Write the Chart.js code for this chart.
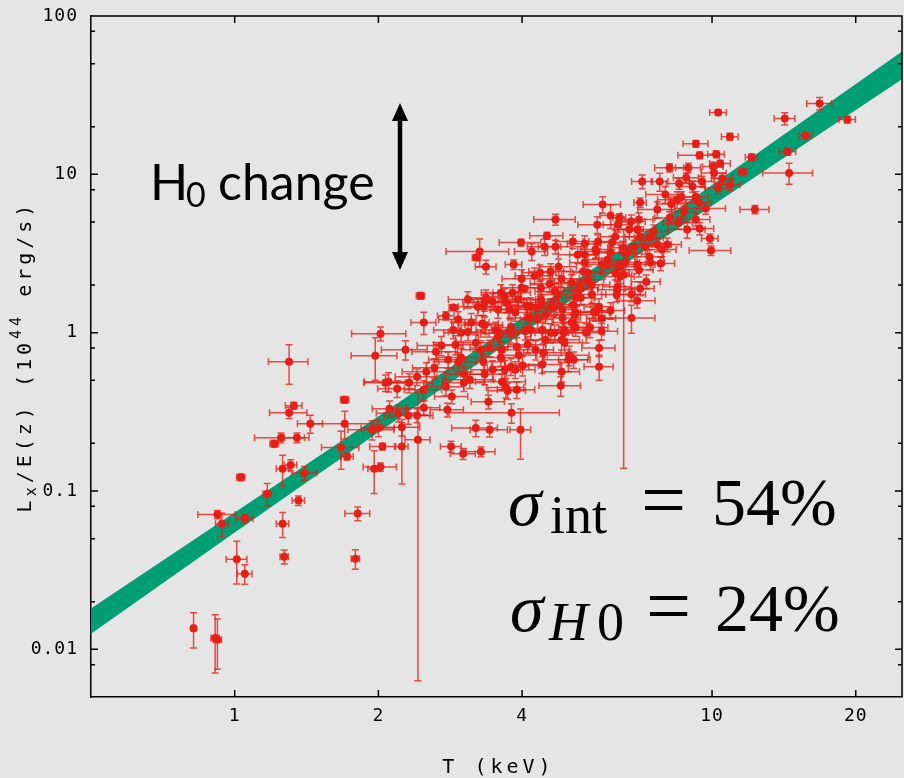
<!DOCTYPE html>
<html>
<head>
<meta charset="utf-8">
<script src="https://cdn.jsdelivr.net/npm/chart.js@4.4.0/dist/chart.umd.min.js"></script>
<style>
  html, body { margin: 0; padding: 0; background: #e5e5e5; overflow: hidden; }
  #wrap { position: relative; width: 906px; height: 778px; }
</style>
</head>
<body>
<div id="wrap"><canvas id="lt"></canvas></div>
<script>
// cluster temperatures (keV)
const temps = [
  0.82, 0.91, 0.92, 0.94, 0.92, 1.05, 1.01, 1.05, 1.03, 1.17, 1.26, 1.31, 1.26, 1.27, 1.30, 1.33, 1.30, 1.25, 1.35, 1.21,
  1.36, 1.40, 1.44, 1.70, 1.70, 1.67, 1.72, 1.81, 1.79, 1.96, 2.02, 2.04, 2.24, 2.42, 1.94, 2.00, 1.97, 2.02, 2.28, 2.11,
  2.20, 2.31, 2.41, 2.49, 2.24, 2.45, 2.87, 2.77, 2.49, 2.79, 2.84, 3.01, 3.28, 3.20, 3.42, 3.97, 3.80, 3.40, 2.85, 2.77,
  2.10, 2.19, 2.32, 2.41, 2.52, 2.62, 2.49, 2.98, 2.64, 3.03, 3.11, 3.34, 3.47, 3.63, 3.70, 3.90, 3.68, 3.87, 4.01, 4.82,
  4.84, 5.00, 4.43, 4.27, 3.61, 3.32, 3.28, 2.90, 2.71, 3.13, 3.30, 2.98, 3.08, 3.20, 3.56, 3.79, 3.90, 3.63, 4.17, 4.31,
  4.48, 4.89, 5.08, 4.91, 5.18, 5.45, 5.55, 5.66, 4.59, 4.39, 4.17, 3.70, 3.87, 3.56, 3.34, 2.94, 2.07, 3.02, 3.42, 3.79,
  3.73, 3.94, 4.84, 5.02, 4.70, 4.51, 3.98, 3.26, 3.21, 3.36, 3.84, 4.19, 4.46, 4.70, 5.11, 5.41, 5.70, 4.77, 4.59, 3.99,
  4.25, 4.36, 3.99, 4.38, 4.57, 4.84, 5.08, 4.03, 3.61, 3.82, 3.68, 3.36, 3.47, 4.68, 5.30, 5.49, 5.37, 3.32, 4.09, 4.27,
  4.38, 4.59, 3.52, 4.06, 4.48, 4.86, 5.11, 5.16, 4.91, 4.41, 5.20, 10.3, 10.9, 9.25, 9.42, 10.2, 10.4, 12.1, 11.6, 8.15,
  8.92, 10.05, 10.1, 8.83, 7.14, 7.77, 8.53, 9.10, 9.53, 10.3, 10.5, 10.9, 7.07, 8.22, 8.62, 9.25, 9.39, 8.74, 9.70, 12.3,
  6.13, 6.40, 8.15, 8.50, 9.25, 9.42, 9.90, 9.95, 7.03, 6.77, 6.36, 6.71, 6.27, 7.56, 7.39, 7.07, 7.68, 5.77, 6.17, 5.72,
  5.41, 6.13, 6.50, 6.65, 6.87, 7.25, 7.39, 7.86, 8.06, 7.80, 7.43, 7.03, 6.59, 6.42, 5.88, 5.41, 5.49, 6.27, 7.28, 7.07,
  6.78, 6.97, 6.78, 6.53, 6.13, 5.87, 5.70, 5.80, 5.60, 6.31, 6.34, 6.42, 5.25, 5.31, 4.86, 5.18, 5.87, 5.80, 5.80, 5.13,
  16.8, 19.2, 14.2, 15.7, 14.4, 14.5,
  3.34, 3.60, 3.79, 4.11, 4.66, 4.68, 3.23, 3.77, 3.08, 2.94, 3.92, 4.75, 5.60, 6.04, 6.97, 7.68, 8.45, 5.75, 5.23, 6.33,
  2.80, 4.11, 4.41, 2.87, 8.87, 5.90, 7.98, 6.97
];
// L_x / E(z) in 1e44 erg/s
const lums = [
  0.0136, 0.0118, 0.0115, 0.062, 0.071, 0.067, 0.037, 0.030, 0.122, 0.096, 0.138, 0.146, 0.062, 0.0385, 0.655, 0.346, 0.312, 0.217, 0.217, 0.199,
  0.087, 0.130, 0.266, 0.377, 0.266, 0.188, 0.165, 0.072, 0.0373, 0.138, 0.142, 0.191, 0.191, 0.211, 0.244, 0.25, 0.714, 0.986, 0.781, 0.331,
  0.31, 0.30, 0.30, 0.336, 0.253, 1.71, 1.44, 1.28, 1.16, 0.326, 0.191, 0.172, 0.177, 0.25, 0.244, 0.244, 0.312, 0.366, 0.395, 0.455,
  0.49, 0.443, 0.483, 0.527, 0.567, 0.60, 0.436, 0.696, 0.759, 0.546, 0.505, 0.546, 0.584, 0.49, 0.45, 0.436, 0.584, 0.584, 0.62, 0.462,
  0.567, 0.675, 0.747, 0.781, 0.696, 0.655, 0.781, 0.84, 0.83, 1.16, 1.14, 1.00, 1.01, 0.865, 0.94, 1.00, 0.816, 0.781, 1.04, 1.21,
  0.903, 1.00, 1.16, 0.865, 1.34, 1.00, 1.08, 1.36, 1.00, 1.55, 1.46, 1.55, 1.34, 1.40, 1.55, 0.655, 0.483, 0.483, 0.80, 0.61,
  0.43, 0.72, 0.903, 0.72, 5.18, 4.10, 3.71, 3.25, 2.98, 2.61, 2.69, 3.25, 3.49, 3.49, 3.76, 3.65, 3.35, 2.61, 2.43, 2.19,
  2.29, 2.39, 1.92, 1.92, 2.04, 2.19, 2.07, 1.90, 1.79, 1.79, 1.69, 1.66, 1.57, 1.82, 1.92, 2.16, 2.43, 1.46, 1.48, 1.44,
  1.62, 1.46, 1.04, 1.02, 1.30, 1.24, 1.50, 1.30, 1.04, 1.04, 1.66, 24.6, 17.3, 15.6, 13.2, 13.4, 11.7, 12.8, 10.4, 11.0,
  11.0, 11.2, 10.2, 9.5, 9.0, 9.0, 8.75, 8.37, 9.0, 8.2, 9.4, 8.6, 6.63, 6.5, 7.2, 7.2, 6.63, 5.8, 6.08, 5.99,
  5.49, 5.32, 5.32, 4.95, 5.18, 4.55, 3.93, 3.30, 5.18, 5.03, 4.81, 4.48, 4.04, 4.35, 3.99, 4.04, 3.60, 3.76, 3.71, 3.25,
  3.11, 3.20, 3.44, 3.20, 3.49, 3.49, 3.02, 3.35, 3.60, 2.73, 2.77, 2.50, 2.77, 2.61, 2.69, 2.77, 2.39, 2.39, 2.10, 1.90,
  1.74, 1.59, 1.24, 2.32, 1.38, 1.23, 1.34, 1.46, 1.74, 1.74, 1.95, 2.26, 1.87, 1.66, 1.40, 1.08, 1.02, 0.80, 0.61, 0.675,
  28.0, 22.2, 22.5, 17.6, 13.9, 10.2,
  1.12, 0.99, 1.08, 1.24, 1.44, 1.00, 1.46, 1.40, 1.62, 1.21, 1.62, 1.74, 2.01, 2.89, 4.48, 5.99, 6.92, 4.81, 3.11, 1.87,
  0.675, 0.84, 0.63, 1.04, 4.48, 6.45, 7.46, 2.69
];
// relative 1-sigma errors
const tempErr = [
  0.01, 0.02, 0.02, 0.03, 0.09, 0.04, 0.05, 0.035, 0.02, 0.02, 0.03, 0.03, 0.03, 0.02, 0.095, 0.04, 0.09, 0.12, 0.06, 0.02,
  0.03, 0.06, 0.06, 0.02, 0.15, 0.09, 0.03, 0.06, 0.02, 0.03, 0.08, 0.06, 0.03, 0.06, 0.11, 0.08, 0.11, 0.13, 0.11, 0.08,
  0.10, 0.11, 0.08, 0.08, 0.09, 0.02, 0.02, 0.04, 0.06, 0.08, 0.05, 0.06, 0.07, 0.11, 0.09, 0.05, 0.26, 0.08, 0.08, 0.09,
  0.11, 0.09, 0.12, 0.10, 0.11, 0.10, 0.09, 0.11, 0.11, 0.09, 0.12, 0.11, 0.10, 0.12, 0.09, 0.09, 0.08, 0.10, 0.08, 0.10,
  0.09, 0.11, 0.09, 0.09, 0.09, 0.11, 0.09, 0.10, 0.11, 0.09, 0.08, 0.08, 0.09, 0.09, 0.09, 0.10, 0.08, 0.09, 0.10, 0.08,
  0.09, 0.10, 0.09, 0.09, 0.09, 0.09, 0.09, 0.08, 0.09, 0.09, 0.09, 0.09, 0.08, 0.09, 0.10, 0.09, 0.10, 0.10, 0.09, 0.09,
  0.09, 0.09, 0.09, 0.10, 0.10, 0.08, 0.10, 0.15, 0.02, 0.05, 0.04, 0.08, 0.08, 0.08, 0.08, 0.08, 0.07, 0.09, 0.10, 0.09,
  0.09, 0.08, 0.09, 0.09, 0.09, 0.09, 0.08, 0.02, 0.09, 0.09, 0.08, 0.09, 0.09, 0.09, 0.09, 0.08, 0.09, 0.09, 0.09, 0.08,
  0.09, 0.09, 0.09, 0.09, 0.09, 0.09, 0.09, 0.09, 0.09, 0.09, 0.09, 0.04, 0.04, 0.06, 0.10, 0.04, 0.05, 0.03, 0.02, 0.07,
  0.06, 0.05, 0.06, 0.06, 0.05, 0.04, 0.06, 0.06, 0.06, 0.06, 0.05, 0.05, 0.03, 0.07, 0.06, 0.06, 0.06, 0.06, 0.10, 0.07,
  0.05, 0.03, 0.07, 0.07, 0.07, 0.07, 0.04, 0.10, 0.07, 0.07, 0.07, 0.07, 0.07, 0.07, 0.07, 0.07, 0.07, 0.07, 0.07, 0.07,
  0.07, 0.07, 0.07, 0.07, 0.07, 0.07, 0.07, 0.07, 0.07, 0.07, 0.07, 0.07, 0.07, 0.07, 0.07, 0.07, 0.07, 0.07, 0.07, 0.07,
  0.07, 0.09, 0.12, 0.04, 0.07, 0.07, 0.07, 0.07, 0.07, 0.07, 0.07, 0.07, 0.07, 0.07, 0.07, 0.08, 0.08, 0.08, 0.07, 0.07,
  0.06, 0.04, 0.05, 0.03, 0.04, 0.12,
  0.09, 0.09, 0.09, 0.09, 0.09, 0.09, 0.09, 0.09, 0.09, 0.09, 0.09, 0.09, 0.09, 0.09, 0.09, 0.09, 0.09, 0.09, 0.09, 0.09,
  0.09, 0.09, 0.09, 0.09, 0.09, 0.09, 0.09, 0.09
];
const lumErr = [
  0.25, 0.40, 0.35, 0.17, 0.06, 0.06, 0.30, 0.14, 0.05, 0.16, 0.22, 0.08, 0.18, 0.10, 0.28, 0.05, 0.08, 0.07, 0.07, 0.05,
  0.07, 0.10, 0.13, 0.05, 0.20, 0.27, 0.05, 0.10, 0.14, 0.30, 0.06, 0.05, 0.42, 0.97, 0.14, 0.12, 0.30, 0.10, 0.14, 0.12,
  0.12, 0.12, 0.10, 0.10, 0.12, 0.05, 0.04, 0.06, 0.16, 0.10, 0.08, 0.08, 0.07, 0.12, 0.10, 0.35, 0.14, 0.10, 0.10, 0.12,
  0.14, 0.12, 0.14, 0.12, 0.14, 0.14, 0.14, 0.14, 0.14, 0.12, 0.12, 0.14, 0.14, 0.12, 0.14, 0.12, 0.14, 0.12, 0.14, 0.14,
  0.14, 0.16, 0.14, 0.14, 0.12, 0.12, 0.14, 0.14, 0.14, 0.14, 0.12, 0.12, 0.12, 0.12, 0.12, 0.14, 0.14, 0.12, 0.14, 0.12,
  0.14, 0.14, 0.12, 0.14, 0.12, 0.14, 0.14, 0.12, 0.14, 0.12, 0.14, 0.14, 0.12, 0.12, 0.12, 0.14, 0.12, 0.12, 0.12, 0.12,
  0.12, 0.12, 0.14, 0.14, 0.08, 0.05, 0.05, 0.20, 0.04, 0.10, 0.07, 0.12, 0.12, 0.10, 0.10, 0.12, 0.12, 0.12, 0.12, 0.14,
  0.12, 0.12, 0.14, 0.12, 0.12, 0.12, 0.12, 0.04, 0.12, 0.12, 0.12, 0.12, 0.12, 0.12, 0.12, 0.12, 0.12, 0.12, 0.12, 0.12,
  0.12, 0.12, 0.12, 0.12, 0.12, 0.12, 0.12, 0.12, 0.12, 0.12, 0.12, 0.04, 0.05, 0.05, 0.05, 0.05, 0.05, 0.05, 0.03, 0.06,
  0.07, 0.07, 0.07, 0.07, 0.10, 0.13, 0.08, 0.08, 0.08, 0.08, 0.08, 0.08, 0.07, 0.08, 0.08, 0.08, 0.08, 0.08, 0.08, 0.06,
  0.17, 0.06, 0.09, 0.09, 0.09, 0.09, 0.07, 0.07, 0.10, 0.10, 0.10, 0.10, 0.10, 0.10, 0.10, 0.10, 0.10, 0.10, 0.10, 0.10,
  0.10, 0.10, 0.10, 0.10, 0.10, 0.10, 0.10, 0.10, 0.10, 0.10, 0.10, 0.10, 0.10, 0.10, 0.10, 0.10, 0.10, 0.10, 0.10, 0.10,
  0.10, 0.10, 0.20, 0.94, 0.12, 0.12, 0.12, 0.12, 0.12, 0.10, 0.10, 0.10, 0.10, 0.10, 0.10, 0.12, 0.12, 0.12, 0.18, 0.12,
  0.09, 0.05, 0.09, 0.05, 0.05, 0.15,
  0.12, 0.12, 0.12, 0.12, 0.12, 0.12, 0.12, 0.12, 0.12, 0.12, 0.12, 0.12, 0.12, 0.12, 0.12, 0.12, 0.12, 0.12, 0.12, 0.12,
  0.12, 0.12, 0.12, 0.12, 0.12, 0.12, 0.12, 0.12
];

// best-fit band edges
const bandT = [0.48, 1, 2, 3.5, 6, 12, 26];
const bandUpper = [0.0167, 0.0731, 0.297, 0.937, 2.90, 12.6, 64.9];
const bandLower = [0.0115, 0.0546, 0.235, 0.753, 2.26, 9.13, 43.2];

const xTicks = [1, 2, 4, 10, 20];
const yTicks = [0.01, 0.1, 1, 10, 100];
const yMinorTicks = [0.008, 0.02, 0.05, 0.08, 0.2, 0.5, 0.8, 2, 5, 8, 20, 50, 80];

const RED = "rgb(232, 30, 22)";
const GREEN = "#009e73";
const MONO = "'DejaVu Sans Mono', 'Liberation Mono', monospace";
const SERIF = "'Liberation Serif', 'DejaVu Serif', serif";

const errorBars = {
  id: "errorBars",
  beforeDatasetDraw(chart, args) {
    if (args.index !== 2) return;
    const { ctx, chartArea: a, scales: { x, y } } = chart;
    ctx.save();
    ctx.beginPath();
    ctx.rect(a.left, a.top, a.right - a.left, a.bottom - a.top);
    ctx.clip();
    ctx.strokeStyle = "rgba(232, 30, 22, 0.78)";
    ctx.lineWidth = 1.5;
    const cap = 3.5;
    temps.forEach((t, i) => {
      const l = lums[i];
      const px = x.getPixelForValue(t);
      const py = y.getPixelForValue(l);
      const x0 = x.getPixelForValue(t * (1 - tempErr[i]));
      const x1 = x.getPixelForValue(t * (1 + tempErr[i]));
      const y0 = y.getPixelForValue(Math.max(l * (1 - lumErr[i]), 1e-4));
      const y1 = y.getPixelForValue(l * (1 + lumErr[i]));
      ctx.beginPath();
      ctx.moveTo(x0, py); ctx.lineTo(x1, py);
      ctx.moveTo(x0, py - cap); ctx.lineTo(x0, py + cap);
      ctx.moveTo(x1, py - cap); ctx.lineTo(x1, py + cap);
      ctx.moveTo(px, y0); ctx.lineTo(px, y1);
      ctx.moveTo(px - cap, y0); ctx.lineTo(px + cap, y0);
      ctx.moveTo(px - cap, y1); ctx.lineTo(px + cap, y1);
      ctx.stroke();
    });
    ctx.restore();
  }
};

function drawRuns(ctx, runs) {
  runs.forEach(r => {
    ctx.font = r.font;
    ctx.fillText(r.text, r.x, r.y);
  });
}

const decorations = {
  id: "decorations",
  beforeDraw(chart) {
    chart.ctx.letterSpacing = "1px";
  },
  afterDraw(chart) {
    const { ctx, chartArea: a, scales: { x, y } } = chart;
    ctx.save();
    ctx.letterSpacing = "0px";

    // frame top/right + inward ticks
    ctx.strokeStyle = "#000";
    ctx.lineWidth = 1.5;
    ctx.beginPath();
    ctx.moveTo(a.left, a.top); ctx.lineTo(a.right, a.top); ctx.lineTo(a.right, a.bottom);
    xTicks.forEach(v => {
      const p = x.getPixelForValue(v);
      ctx.moveTo(p, a.bottom); ctx.lineTo(p, a.bottom - 7);
      ctx.moveTo(p, a.top); ctx.lineTo(p, a.top + 7);
    });
    yTicks.forEach(v => {
      const p = y.getPixelForValue(v);
      ctx.moveTo(a.left, p); ctx.lineTo(a.left + 7, p);
      ctx.moveTo(a.right, p); ctx.lineTo(a.right - 7, p);
    });
    yMinorTicks.forEach(v => {
      const p = y.getPixelForValue(v);
      ctx.moveTo(a.left, p); ctx.lineTo(a.left + 4, p);
      ctx.moveTo(a.right, p); ctx.lineTo(a.right - 4, p);
    });
    ctx.stroke();

    ctx.fillStyle = "#000";
    ctx.textBaseline = "alphabetic";

    // x title
    ctx.letterSpacing = "4px";
    ctx.font = "20px " + MONO;
    ctx.textAlign = "center";
    ctx.fillText("T (keV)", (a.left + a.right) / 2 + 2, 773);

    // y title with sub/superscript
    ctx.save();
    ctx.translate(31, (a.top + a.bottom) / 2);
    ctx.rotate(-Math.PI / 2);
    ctx.textAlign = "left";
    const parts = [
      { text: "L", size: 20, dy: 0 },
      { text: "x", size: 15, dy: 5 },
      { text: "/E(z) (10", size: 20, dy: 0 },
      { text: "44", size: 15, dy: -10 },
      { text: " erg/s)", size: 20, dy: 0 }
    ];
    let total = 0;
    parts.forEach(p => { ctx.font = p.size + "px " + MONO; p.w = ctx.measureText(p.text).width; total += p.w; });
    let cx = -total / 2;
    parts.forEach(p => { ctx.font = p.size + "px " + MONO; ctx.fillText(p.text, cx, p.dy); cx += p.w; });
    ctx.restore();

    ctx.letterSpacing = "0px";
    ctx.textAlign = "left";

    // H0 change label
    drawRuns(ctx, [
      { text: "H", font: "50px Lato, 'Open Sans', sans-serif", x: 150, y: 200 },
      { text: "0", font: "34px Lato, 'Open Sans', sans-serif", x: 186, y: 207 },
      { text: "change", font: "50px Lato, 'Open Sans', sans-serif", x: 218, y: 200 }
    ]);

    // double arrow
    ctx.lineWidth = 4.5;
    ctx.beginPath();
    ctx.moveTo(400, 116); ctx.lineTo(400, 257);
    ctx.stroke();
    ctx.beginPath();
    ctx.moveTo(400, 103); ctx.lineTo(392, 121); ctx.lineTo(408, 121); ctx.closePath();
    ctx.moveTo(400, 270); ctx.lineTo(392, 252); ctx.lineTo(408, 252); ctx.closePath();
    ctx.fill();

    // scatter annotations
    drawRuns(ctx, [
      { text: "\u03c3", font: "italic 68px " + SERIF, x: 508, y: 525 },
      { text: "int", font: "54px " + SERIF, x: 550, y: 533 },
      { text: "=", font: "80px " + SERIF, x: 641, y: 527 },
      { text: "54%", font: "68px " + SERIF, x: 712, y: 525 },
      { text: "\u03c3", font: "italic 68px " + SERIF, x: 510, y: 631 },
      { text: "H", font: "italic 54px " + SERIF, x: 549, y: 640 },
      { text: "0", font: "54px " + SERIF, x: 597, y: 640 },
      { text: "=", font: "80px " + SERIF, x: 646, y: 633 },
      { text: "24%", font: "68px " + SERIF, x: 715, y: 631 }
    ]);
    ctx.restore();
  }
};

new Chart(document.getElementById("lt"), {
  type: "scatter",
  data: {
    datasets: [
      {
        data: bandT.map((t, i) => ({ x: t, y: bandUpper[i] })),
        showLine: true,
        fill: "+1",
        backgroundColor: GREEN,
        borderWidth: 0,
        pointRadius: 0,
        order: 2
      },
      {
        data: bandT.map((t, i) => ({ x: t, y: bandLower[i] })),
        showLine: true,
        borderWidth: 0,
        pointRadius: 0,
        order: 2
      },
      {
        data: temps.map((t, i) => ({ x: t, y: lums[i] })),
        backgroundColor: RED,
        borderWidth: 0,
        pointRadius: 4,
        order: 0
      }
    ]
  },
  options: {
    responsive: true,
    maintainAspectRatio: false,
    animation: false,
    layout: { padding: { top: 16, right: 1, bottom: 0, left: 0 } },
    plugins: { legend: { display: false }, tooltip: { enabled: false } },
    scales: {
      x: {
        type: "logarithmic",
        min: 0.5,
        max: 25,
        afterBuildTicks: s => { s.ticks = xTicks.map(v => ({ value: v })); },
        afterFit: s => { s.height = 81; },
        ticks: {
          callback: v => String(v),
          font: { family: MONO, size: 18 },
          color: "#000",
          padding: 1,
          maxRotation: 0,
          autoSkip: false
        },
        grid: { display: false },
        border: { display: true, color: "#000", width: 1.5 }
      },
      y: {
        type: "logarithmic",
        min: 0.005,
        max: 100,
        afterBuildTicks: s => { s.ticks = yTicks.map(v => ({ value: v })); },
        afterFit: s => { s.width = 91; },
        ticks: {
          callback: v => String(v),
          font: { family: MONO, size: 18 },
          color: "#000",
          padding: 5,
          autoSkip: false
        },
        grid: { display: false },
        border: { display: true, color: "#000", width: 1.5 }
      }
    }
  },
  plugins: [errorBars, decorations]
});
</script>
</body>
</html>
